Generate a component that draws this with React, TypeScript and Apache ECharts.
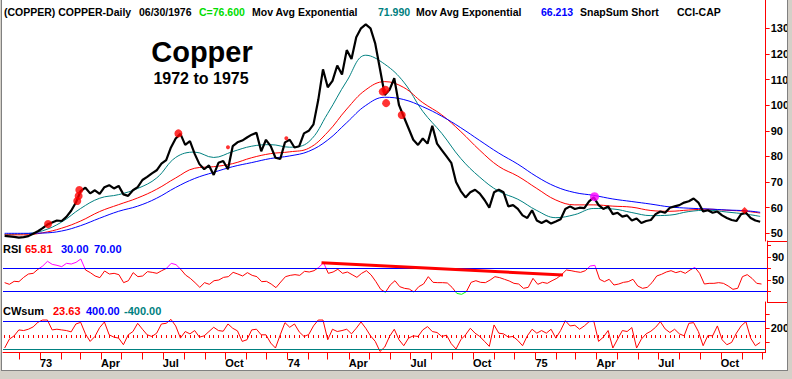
import { useEffect, useRef } from 'react';
import * as echarts from 'echarts';

// ---------- data ----------
const WEEK_START = '1972-11-10'; // first weekly sample
const closes = [
  49.0, 48.8, 48.6, 48.3, 48.5, 48.9, 49.8, 50.8, 52.0, 53.4,
  54.2, 55.0, 54.8, 56.4, 58.8, 62.0, 66.5, 67.8, 65.6, 66.8,
  65.4, 68.0, 68.8, 67.5, 68.5, 65.2, 64.6, 66.8, 68.0, 70.8,
  72.0, 73.4, 74.6, 77.2, 78.6, 83.5, 87.0, 88.8, 84.5, 86.0,
  81.0, 77.0, 75.0, 76.5, 72.8, 77.5, 78.2, 75.0, 84.0, 85.5,
  86.2, 87.4, 88.5, 89.2, 82.0, 86.5, 84.0, 79.5, 79.0, 85.5,
  86.5, 83.5, 84.0, 89.0, 90.0, 92.5, 102.0, 114.0, 107.0, 109.5,
  115.5, 112.0, 121.5, 118.0, 126.5, 130.0, 131.5, 130.0, 124.0, 114.0,
  104.0, 106.0, 110.5, 100.0, 95.5, 91.0, 86.5, 84.5, 87.0, 85.0,
  92.0, 85.0, 82.5, 80.0, 77.5, 70.0, 66.5, 64.0, 66.0, 67.0,
  65.5, 63.0, 60.0, 66.0, 67.0, 66.0, 60.5, 61.0, 59.5, 57.0,
  56.0, 59.0, 55.0, 54.0, 55.0, 53.8, 54.6, 55.5, 59.5, 60.5,
  59.5, 60.0, 59.8, 62.5, 64.0, 61.0, 59.5, 60.5, 57.5, 58.0,
  56.5, 57.0, 55.0, 55.8, 54.0, 54.8, 55.2, 57.5, 58.5, 58.0,
  60.0, 60.5, 61.0, 62.0, 62.5, 63.6, 62.0, 58.5, 59.0, 58.0,
  58.5, 57.0, 56.0, 55.2, 54.8, 57.5, 58.0, 56.0, 55.0, 54.5,
];

const emaWeeks = [0, 4, 8, 12, 16, 20, 24, 28, 32, 36, 40, 44, 48, 52, 56, 60, 64, 68, 72, 76,
  80, 84, 88, 92, 96, 100, 104, 108, 112, 116, 120, 124, 128, 132, 136, 140, 144, 148, 152, 156, 159];
const emaFast = [49.6, 49.8, 51.0, 54.4, 59.7, 63.7, 65.1, 67.5, 71.6, 79.6, 81.7, 79.6, 81.9, 84.0, 84.6,
  83.6, 85.7, 96.8, 109.4, 119.5, 116.0, 109.0, 97.6, 89.0, 79.2, 71.9, 66.4, 63.3, 58.9, 56.1,
  57.3, 59.7, 59.5, 58.1, 56.9, 57.1, 58.5, 59.0, 58.3, 57.5, 56.6];
const emaMid = [49.4, 49.4, 50.2, 52.0, 54.8, 58.5, 61.2, 63.8, 67.2, 71.6, 75.4, 76.0, 77.2, 79.5, 81.1,
  81.8, 83.2, 89.5, 98.5, 106.0, 109.2, 106.9, 101.0, 96.2, 89.7, 82.4, 76.1, 72.3, 67.5, 63.0,
  61.1, 61.1, 60.6, 60.2, 58.9, 58.6, 59.1, 59.4, 59.0, 58.6, 57.9];
const emaSlow = [50.0, 50.0, 50.1, 50.9, 53.0, 55.9, 58.6, 60.6, 63.7, 67.9, 71.4, 73.8, 76.0, 77.6, 79.2,
  80.2, 82.0, 86.4, 93.2, 99.9, 103.1, 102.2, 99.4, 95.7, 91.2, 86.2, 81.3, 77.0, 72.1, 68.2,
  65.9, 64.8, 63.4, 62.4, 61.4, 60.3, 59.8, 59.5, 59.1, 58.8, 58.2];

const rsi = [
  45.4, 42.5, 47.7, 47.1, 54.6, 60.4, 61.6, 68.6, 74.3, 82.5,
  77.2, 75.5, 73.2, 79.0, 77.8, 80.7, 86.5, 67.4, 62.8, 57.0,
  54.1, 65.7, 60.4, 61.6, 59.3, 45.4, 48.8, 62.8, 55.8, 57.0,
  64.5, 63.3, 61.6, 66.2, 70.3, 79.0, 76.7, 68.6, 58.7, 52.9,
  45.4, 37.2, 45.4, 42.5, 48.8, 50.0, 54.6, 55.8, 63.3, 60.4,
  57.0, 62.8, 58.1, 55.8, 47.1, 47.7, 43.0, 36.7, 46.5, 55.8,
  58.1, 59.3, 58.1, 65.1, 63.9, 66.2, 72.0, 80.1, 61.6, 63.9,
  68.6, 61.6, 63.9, 59.3, 54.6, 61.6, 66.2, 58.7, 47.1, 33.8,
  28.6, 41.3, 48.8, 38.4, 35.5, 34.3, 29.0, 38.4, 43.0, 55.8,
  45.9, 45.4, 45.4, 44.8, 37.2, 26.7, 25.1, 29.7, 45.9, 48.8,
  45.9, 45.4, 50.0, 55.8, 54.1, 51.2, 48.3, 44.2, 43.0, 35.5,
  37.2, 52.9, 42.5, 45.9, 44.2, 48.8, 52.9, 59.3, 67.4, 66.2,
  64.5, 63.3, 66.2, 74.3, 75.5, 51.2, 47.1, 51.2, 41.3, 43.0,
  45.9, 47.1, 51.2, 39.6, 35.5, 37.2, 45.4, 57.0, 59.9, 63.9,
  66.2, 62.8, 65.1, 61.6, 67.4, 72.0, 61.6, 43.0, 44.2, 44.2,
  45.4, 44.2, 39.6, 33.8, 35.5, 55.8, 59.3, 52.9, 44.2, 43.0,
];

const cwSum = [
  -372, -118, -24, 146, 127, 165, 231, 362, 428, 428,
  146, 165, 146, 127, 89, 315, 362, 33, -183, -42,
  212, 372, 5, -61, -89, -278, 5, 99, 334, 165,
  5, -42, 52, 315, 334, 447, 259, -89, 99, 33,
  127, -61, -24, 99, 221, 127, 108, 315, 193, 118,
  -183, -136, 146, 165, 5, 5, -230, -372, 5, 353,
  221, 315, 89, -42, 14, 259, 428, 428, -136, 165,
  99, 127, 165, 33, 193, 372, 193, -24, -183, -470,
  -343, -42, 165, -136, -306, -89, -24, -42, 146, 240,
  99, 71, -42, -5, -249, -400, -136, 5, 193, 52,
  -42, -183, -325, 287, 52, 33, -61, -42, -155, -306,
  -24, 165, 52, 127, 52, 165, -89, 127, 409, 259,
  278, 165, 259, 381, 391, -183, -61, 127, -372, -118,
  127, 99, 212, -372, -118, 33, 108, 221, 381, 174,
  71, 165, 33, -24, 334, 353, 99, -306, -14, -24,
  259, -136, -278, -212, 52, 259, 381, -89, -306, -212,
];

const rsiTrendDates = ['1974-02-19', '1975-02-09'];
const rsiTrendValues = [80.1, 58.7];

const buyDates = ['1973-01-13', '1973-02-25', '1973-02-27', '1973-02-28', '1973-07-24', '1974-05-21', '1974-05-25', '1974-05-26', '1974-06-18'];
const buyValues = [53.6, 62.6, 64.6, 66.9, 89.0, 105.3, 106.0, 100.8, 96.2];
const minorDates = ['1973-10-05', '1973-12-30'];
const minorValues = [83.6, 87.1];
const magentaDates = ['1975-03-29'];
const magentaValues = [64.3];
const lastSignalDates = ['1975-11-05'];
const lastSignalValues = [58.9];

const priceTicks = [50, 60, 70, 80, 90, 100, 110, 120, 130];
const rsiTicks = [30, 50, 70, 90, 110];
const rsiLabels = [50, 90];
const rsiLevels = [70, 30];
const cwTicks = [-200, 200, 600];
const cwLabels = [200];
const quarterDates = ['1973-01-01', '1973-04-01', '1973-07-01', '1973-10-01', '1974-01-01', '1974-04-01',
  '1974-07-01', '1974-10-01', '1975-01-01', '1975-04-01', '1975-07-01', '1975-10-01'];
const quarterTexts = ['73', 'Apr', 'Jul', 'Oct', '74', 'Apr', 'Jul', 'Oct', '75', 'Apr', 'Jul', 'Oct'];

// ---------- helpers ----------
const FONT = '"Liberation Sans", Arial, sans-serif';
function dayOf(s: string) {
  const [y, m, d] = s.split('-').map(Number);
  return (Date.UTC(y, m - 1, d) - Date.UTC(1973, 0, 1)) / 86400000;
}
const week0 = dayOf(WEEK_START);
const weekDay = (i: number) => week0 + 7 * i;
const X_MIN = -54.4;
const X_MAX = 1069.1;

export default function App() {
  const ref = useRef<HTMLDivElement>(null);
  useEffect(() => {
    document.body.style.margin = '0';
    if (!ref.current) return;
    const chart = echarts.init(ref.current, undefined, { renderer: 'svg' });

    const monthDays: number[] = [];
    for (let y = 1972; y <= 1975; y++) {
      for (let m = 0; m < 12; m++) {
        const d = (Date.UTC(y, m, 1) - Date.UTC(1973, 0, 1)) / 86400000;
        if (d >= X_MIN && d <= X_MAX) monthDays.push(d);
      }
    }
    const weekTicks = closes.map((_, i) => weekDay(i));
    const quarterDays = quarterDates.map(dayOf);
    const labelMap: Record<number, string> = {};
    quarterDays.forEach((d, k) => (labelMap[Math.round(d)] = quarterTexts[k]));

    const axisLabelBase = { color: '#000', fontWeight: 'bold', fontSize: 11, fontFamily: FONT };
    const red = '#ff0000';

    const yAxisCommon = (gi: number, min: number, max: number, ticks: number[], labels: number[]) => ({
      gridIndex: gi, type: 'value', position: 'right', min, max,
      axisLine: { show: true, onZero: false, lineStyle: { color: red, width: 1 } },
      axisTick: { show: true, customValues: ticks, length: 4, lineStyle: { color: red } },
      axisLabel: { ...axisLabelBase, customValues: labels, margin: 5 },
      splitLine: { show: false },
    });

    const txt = (text: string, x: number, y: number, fill = '#000', size = 10.5, weight = 'bold', align = 'left') => ({
      type: 'text', x, y, z: 50,
      style: { text, fill, fontSize: size, fontWeight: weight, fontFamily: FONT, textAlign: align, textVerticalAlign: 'middle' },
    });

    const option: any = {
      animation: false,
      backgroundColor: '#ffffff',
      grid: [
        { left: 3, right: 25, top: 0, height: 241 },
        { left: 3, right: 25, top: 241, height: 61 },
        { left: 3, right: 25, top: 302, height: 50.5 },
      ],
      xAxis: [
        { gridIndex: 0, type: 'value', min: X_MIN, max: X_MAX, show: false },
        { gridIndex: 1, type: 'value', min: X_MIN, max: X_MAX, show: false },
        {
          gridIndex: 2, type: 'value', min: X_MIN, max: X_MAX, position: 'bottom',
          axisLine: { show: true, onZero: false, lineStyle: { color: red, width: 1 } },
          axisTick: { show: true, customValues: monthDays, length: 7, lineStyle: { color: red } },
          axisLabel: {
            ...axisLabelBase, customValues: quarterDays, margin: 5, align: 'left',
            formatter: (v: number) => labelMap[Math.round(v)] ?? '',
          },
          splitLine: { show: false },
        },
        {
          gridIndex: 2, type: 'value', min: X_MIN, max: X_MAX, position: 'bottom',
          axisLine: { show: false },
          axisTick: { show: true, customValues: weekTicks, length: 3, lineStyle: { color: red } },
          axisLabel: { show: false },
          splitLine: { show: false },
        },
      ],
      yAxis: [
        yAxisCommon(0, 47.0, 141.05, priceTicks, priceTicks),
        yAxisCommon(1, 11.74, 117.83, rsiTicks, rsiLabels),
        yAxisCommon(2, -500, 942.9, cwTicks, cwLabels),
      ],
      visualMap: [{
        type: 'piecewise', show: false, seriesIndex: 8, dimension: 1,
        pieces: [
          { lt: 30, color: '#00ff00' },
          { gte: 30, lte: 70, color: '#ff0000' },
          { gt: 70, color: '#ff00ff' },
        ],
      }],
      series: [
        {
          type: 'line', xAxisIndex: 0, yAxisIndex: 0, symbol: 'none', z: 4,
          data: closes.map((v, i) => [weekDay(i), v]),
          lineStyle: { color: '#000', width: 2.2 },
        },
        {
          type: 'line', xAxisIndex: 0, yAxisIndex: 0, symbol: 'none', smooth: 0.4, z: 3,
          data: emaWeeks.map((w, k) => [weekDay(w), emaFast[k]]),
          lineStyle: { color: '#008080', width: 1 },
        },
        {
          type: 'line', xAxisIndex: 0, yAxisIndex: 0, symbol: 'none', smooth: 0.4, z: 3,
          data: emaWeeks.map((w, k) => [weekDay(w), emaMid[k]]),
          lineStyle: { color: '#ff0000', width: 1 },
        },
        {
          type: 'line', xAxisIndex: 0, yAxisIndex: 0, symbol: 'none', smooth: 0.4, z: 3,
          data: emaWeeks.map((w, k) => [weekDay(w), emaSlow[k]]),
          lineStyle: { color: '#0000ff', width: 1 },
        },
        {
          type: 'scatter', xAxisIndex: 0, yAxisIndex: 0, symbolSize: 8, z: 6,
          data: buyDates.map((d, k) => [dayOf(d), buyValues[k]]),
          itemStyle: { color: '#ff0000' },
        },
        {
          type: 'scatter', xAxisIndex: 0, yAxisIndex: 0, symbolSize: 4, z: 6,
          data: minorDates.map((d, k) => [dayOf(d), minorValues[k]]),
          itemStyle: { color: '#ff0000' },
        },
        {
          type: 'scatter', xAxisIndex: 0, yAxisIndex: 0, symbolSize: 9, z: 6,
          data: magentaDates.map((d, k) => [dayOf(d), magentaValues[k]]),
          itemStyle: { color: '#ff00ff' },
        },
        {
          type: 'scatter', xAxisIndex: 0, yAxisIndex: 0, symbolSize: 7, symbol: 'diamond', z: 6,
          data: lastSignalDates.map((d, k) => [dayOf(d), lastSignalValues[k]]),
          itemStyle: { color: '#ff0000' },
        },
        {
          type: 'line', xAxisIndex: 1, yAxisIndex: 1, symbol: 'none', z: 4,
          data: rsi.map((v, i) => [weekDay(i), v]),
          lineStyle: { width: 1 },
        },
        {
          type: 'line', xAxisIndex: 1, yAxisIndex: 1, symbol: 'none', z: 5,
          data: rsiTrendDates.map((d, k) => [dayOf(d), rsiTrendValues[k]]),
          lineStyle: { color: '#ff0000', width: 3 },
          markLine: {
            silent: true, symbol: 'none', label: { show: false },
            lineStyle: { color: '#0000ff', width: 1, type: 'solid' },
            data: rsiLevels.map((v) => ({ yAxis: v })),
          },
        },
        {
          type: 'line', xAxisIndex: 2, yAxisIndex: 2, symbol: 'none', z: 4,
          data: cwSum.map((v, i) => [weekDay(i), v]),
          lineStyle: { color: '#ff0000', width: 1 },
          markLine: {
            silent: true, symbol: 'none', label: { show: false },
            data: [
              { yAxis: 400, lineStyle: { color: '#0000ff', width: 1, type: 'solid' } },
              { yAxis: -400, lineStyle: { color: '#008080', width: 1, type: 'solid' } },
            ],
          },
        },
      ],
      graphic: [
        txt('(COPPER) COPPER-Daily', 4, 12),
        txt('06/30/1976', 139, 12),
        txt('C=76.600', 199, 12, '#00dd00'),
        txt('Mov Avg Exponential', 252, 12),
        txt('71.990', 378, 12, '#008080'),
        txt('Mov Avg Exponential', 416, 12),
        txt('66.213', 541, 12, '#0000ff'),
        txt('SnapSum Short', 580, 12),
        txt('CCI-CAP', 677, 12),
        txt('Copper', 202, 51.5, '#000', 29, 'bold', 'center'),
        txt('1972 to 1975', 201, 78, '#000', 16, 'bold', 'center'),
        txt('RSI', 3, 249, '#000', 11),
        txt('65.81', 25, 249, '#ff0000', 11),
        txt('30.00', 61, 249, '#0000ff', 11),
        txt('70.00', 94, 249, '#0000ff', 11),
        txt('CWsum', 3, 311, '#000', 11),
        txt('23.63', 53, 311, '#ff0000', 11),
        txt('400.00', 86, 311, '#0000ff', 11),
        txt('-400.00', 124, 311, '#008080', 11),
        { type: 'line', z: 40, shape: { x1: 767, y1: 241.5, x2: 792, y2: 241.5 }, style: { stroke: red, lineWidth: 1 } },
        { type: 'line', z: 40, shape: { x1: 767, y1: 302.5, x2: 792, y2: 302.5 }, style: { stroke: red, lineWidth: 1 } },
        { type: 'rect', z: 100, shape: { x: 0, y: 370, width: 792, height: 9 }, style: { fill: '#d4d0c8' } },
        { type: 'line', z: 101, shape: { x1: 1.5, y1: 370.5, x2: 788, y2: 370.5 }, style: { stroke: '#808080', lineWidth: 1 } },
        { type: 'rect', z: 100, shape: { x: 0, y: 0, width: 1, height: 379 }, style: { fill: '#d4d0c8' } },
        { type: 'line', z: 101, shape: { x1: 1.5, y1: 0, x2: 1.5, y2: 371 }, style: { stroke: '#808080', lineWidth: 1 } },
        { type: 'rect', z: 100, shape: { x: 788, y: 0, width: 4, height: 379 }, style: { fill: '#d4d0c8' } },
        { type: 'line', z: 101, shape: { x1: 787.5, y1: 0, x2: 787.5, y2: 371 }, style: { stroke: '#808080', lineWidth: 1 } },
      ],
    };
    chart.setOption(option);
    return () => chart.dispose();
  }, []);
  return <div ref={ref} style={{ width: 792, height: 379, position: 'absolute', left: 0, top: 0 }} />;
}
